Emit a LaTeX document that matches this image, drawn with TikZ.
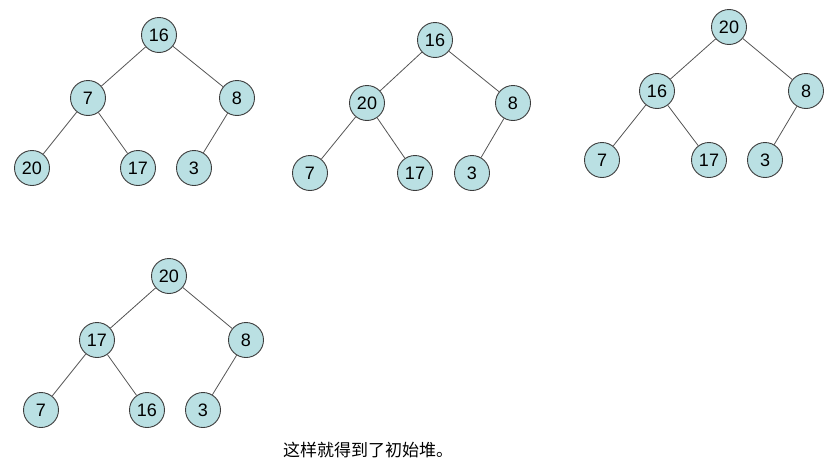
\documentclass[tikz,border=0pt]{standalone}
\usepackage{fontspec}
\setmainfont{Liberation Sans}
\newfontfamily\cjk{Noto Sans CJK SC}
\definecolor{nodefill}{RGB}{186,224,227}
\definecolor{nodeline}{RGB}{60,60,60}
\definecolor{edgeline}{RGB}{85,85,85}
\begin{document}
\begin{tikzpicture}[x=1pt,y=-1pt,
  hn/.style={circle,draw=nodeline,fill=nodefill,line width=0.9pt,minimum size=35pt,inner sep=0pt,font=\fontsize{18}{18}\selectfont},
  ed/.style={draw=edgeline,line width=0.8pt}]
\useasboundingbox (0,0) rectangle (833,466);
% tree 1
\node[hn] (a1) at (159,35) {16};
\node[hn] (a2) at (88,98) {7};
\node[hn] (a3) at (237,98) {8};
\node[hn] (a4) at (32,168) {20};
\node[hn] (a5) at (138,168) {17};
\node[hn] (a6) at (194,168) {3};
\draw[ed] (a1)--(a2) (a1)--(a3) (a2)--(a4) (a2)--(a5) (a3)--(a6);
% tree 2
\node[hn] (b1) at (435,40) {16};
\node[hn] (b2) at (367,103) {20};
\node[hn] (b3) at (513,103) {8};
\node[hn] (b4) at (310,173) {7};
\node[hn] (b5) at (415,173) {17};
\node[hn] (b6) at (472,173) {3};
\draw[ed] (b1)--(b2) (b1)--(b3) (b2)--(b4) (b2)--(b5) (b3)--(b6);
% tree 3
\node[hn] (c1) at (729,27) {20};
\node[hn] (c2) at (657,91) {16};
\node[hn] (c3) at (806,91) {8};
\node[hn] (c4) at (602,160) {7};
\node[hn] (c5) at (709,160) {17};
\node[hn] (c6) at (765,160) {3};
\draw[ed] (c1)--(c2) (c1)--(c3) (c2)--(c4) (c2)--(c5) (c3)--(c6);
% tree 4
\node[hn] (d1) at (169,276) {20};
\node[hn] (d2) at (97,340) {17};
\node[hn] (d3) at (246,340) {8};
\node[hn] (d4) at (41,410) {7};
\node[hn] (d5) at (147,410) {16};
\node[hn] (d6) at (203,410) {3};
\draw[ed] (d1)--(d2) (d1)--(d3) (d2)--(d4) (d2)--(d5) (d3)--(d6);
\node[font=\cjk\fontsize{17}{17}\selectfont,anchor=west,inner sep=0pt] (cap) at (283,450) {这样就得到了初始堆。};
\end{tikzpicture}
\end{document}
